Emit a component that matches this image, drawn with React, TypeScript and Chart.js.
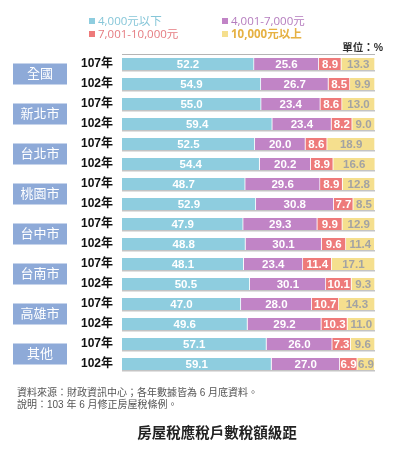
import React, { useEffect, useRef } from "react";
import { Chart, registerables } from "chart.js";

Chart.register(...registerables);

const regions = ["全國", "新北市", "台北市", "桃園市", "台中市", "台南市", "高雄市", "其他"];
const years = ["107年", "102年"];
const seriesNames = ["4,000元以下", "4,001-7,000元", "7,001-10,000元", "10,000元以上"];
const below4000 = [52.2, 54.9, 55.0, 59.4, 52.5, 54.4, 48.7, 52.9, 47.9, 48.8, 48.1, 50.5, 47.0, 49.6, 57.1, 59.1];
const from4001 = [25.6, 26.7, 23.4, 23.4, 20.0, 20.2, 29.6, 30.8, 29.3, 30.1, 23.4, 30.1, 28.0, 29.2, 26.0, 27.0];
const from7001 = [8.9, 8.5, 8.6, 8.2, 8.6, 8.9, 8.9, 7.7, 9.9, 9.6, 11.4, 10.1, 10.7, 10.3, 7.3, 6.9];
const above10000 = [13.3, 9.9, 13.0, 9.0, 18.9, 16.6, 12.8, 8.5, 12.9, 11.4, 17.1, 9.3, 14.3, 11.0, 9.6, 6.9];

const barColors = ["#8ecddf", "#c184c6", "#ee7a7a", "#f5df8e"];
const legendTextColors = ["#86c6d8", "#b57cbe", "#e57b80", "#e6b143"];
const labelColors = ["#ffffff", "#ffffff", "#ffffff", "#a3a3a3"];
const FONT = "'Liberation Sans', 'Noto Sans CJK TC', sans-serif";
const LEGEND_FONT = "'Open Sans', 'Noto Sans CJK TC', sans-serif";

const categoryLabels = regions.flatMap(() => years);

const decorPlugin = {
  id: "decor",
  beforeDatasetsDraw(chart: any) {
    const { ctx, chartArea } = chart;
    const y = chart.scales.y;
    ctx.save();
    const firstTop = y.getPixelForValue(0) - 6;
    ctx.fillStyle = "#b5b5b5";
    ctx.fillRect(chartArea.left, firstTop - 4, chartArea.right - chartArea.left, 1);
    ctx.fillStyle = "#c4c4c4";
    for (let i = 0; i < categoryLabels.length; i++) {
      const cy = y.getPixelForValue(i);
      ctx.fillRect(chartArea.left, cy + 6, chartArea.right - chartArea.left, 1.5);
    }
    ctx.textAlign = "center";
    ctx.textBaseline = "middle";
    ctx.font = `13px ${FONT}`;
    regions.forEach((r, i) => {
      const cy = (y.getPixelForValue(2 * i) + y.getPixelForValue(2 * i + 1)) / 2;
      ctx.fillStyle = "#8eaad8";
      ctx.fillRect(13, cy - 10.5, 54, 21);
      ctx.fillStyle = "#ffffff";
      ctx.fillText(r, 40, cy + 0.5);
    });
    ctx.restore();
  },
  afterDatasetsDraw(chart: any) {
    const { ctx } = chart;
    ctx.save();
    ctx.textAlign = "center";
    ctx.textBaseline = "middle";
    ctx.font = `bold 11.5px ${FONT}`;
    chart.data.datasets.forEach((ds: any, di: number) => {
      const meta = chart.getDatasetMeta(di);
      meta.data.forEach((bar: any, i: number) => {
        const v = ds.data[i];
        ctx.fillStyle = labelColors[di];
        ctx.fillText(v.toFixed(1), (bar.x + bar.base) / 2, bar.y + 0.5);
      });
    });
    ctx.restore();
  },
};

export default function App() {
  const ref = useRef<HTMLCanvasElement>(null);
  useEffect(() => {
    document.body.style.margin = "0";
    const data = [below4000, from4001, from7001, above10000];
    const chart = new Chart(ref.current as HTMLCanvasElement, {
      type: "bar",
      data: {
        labels: categoryLabels,
        datasets: data.map((d, i) => ({
          label: seriesNames[i],
          data: d,
          backgroundColor: barColors[i],
          borderColor: "rgba(255,255,255,0.75)",
          borderWidth: { left: 0, right: 1, top: 0, bottom: 0 },
          borderSkipped: false,
          barThickness: 12,
        })),
      },
      options: {
        indexAxis: "y",
        responsive: false,
        animation: false,
        layout: { padding: { left: 0, right: 36, top: 54, bottom: 76 } },
        plugins: { legend: { display: false }, tooltip: { enabled: false } },
        scales: {
          x: { stacked: true, min: 0, max: 100, display: false },
          y: {
            stacked: true,
            grid: { display: false, drawTicks: false },
            border: { display: false },
            ticks: { color: "#111", font: { family: FONT, size: 12, weight: "bold" }, padding: 9 },
            afterFit: (s: any) => {
              s.width = 122;
            },
          },
        },
      } as any,
      plugins: [decorPlugin],
    });
    return () => chart.destroy();
  }, []);

  const legendPos = [
    { left: 89, top: 14 },
    { left: 222, top: 14 },
    { left: 89, top: 27 },
    { left: 222, top: 27 },
  ];

  return (
    <div style={{ position: "relative", width: 411, height: 450, fontFamily: FONT }}>
      <canvas ref={ref} width={411} height={450} style={{ position: "absolute", left: 0, top: 0 }} />
      {seriesNames.map((n, i) => (
        <div
          key={n}
          style={{
            position: "absolute",
            left: legendPos[i].left,
            top: legendPos[i].top,
            fontFamily: LEGEND_FONT,
            fontSize: 11.5,
            fontWeight: i === 3 ? "bold" : "normal",
            lineHeight: "13px",
            color: legendTextColors[i],
            whiteSpace: "nowrap",
            display: "flex",
            alignItems: "center",
          }}
        >
          <span style={{ display: "inline-block", width: 6, height: 6, background: barColors[i], marginRight: 3 }} />
          {n}
        </div>
      ))}
      <div style={{ position: "absolute", right: 28, top: 39, fontSize: 10.5, fontWeight: "bold", color: "#333" }}>單位：%</div>
      <div style={{ position: "absolute", left: 17, top: 387, fontSize: 10, lineHeight: "12px", color: "#555" }}>
        <div>資料來源：財政資訊中心；各年數據皆為 6 月底資料。</div>
        <div>說明：103 年 6 月修正房屋稅條例。</div>
      </div>
      <div
        style={{
          position: "absolute",
          left: 0,
          width: 434,
          top: 421,
          textAlign: "center",
          fontSize: 14.5,
          fontWeight: "bold",
          color: "#222",
        }}
      >
        房屋稅應稅戶數稅額級距
      </div>
    </div>
  );
}
